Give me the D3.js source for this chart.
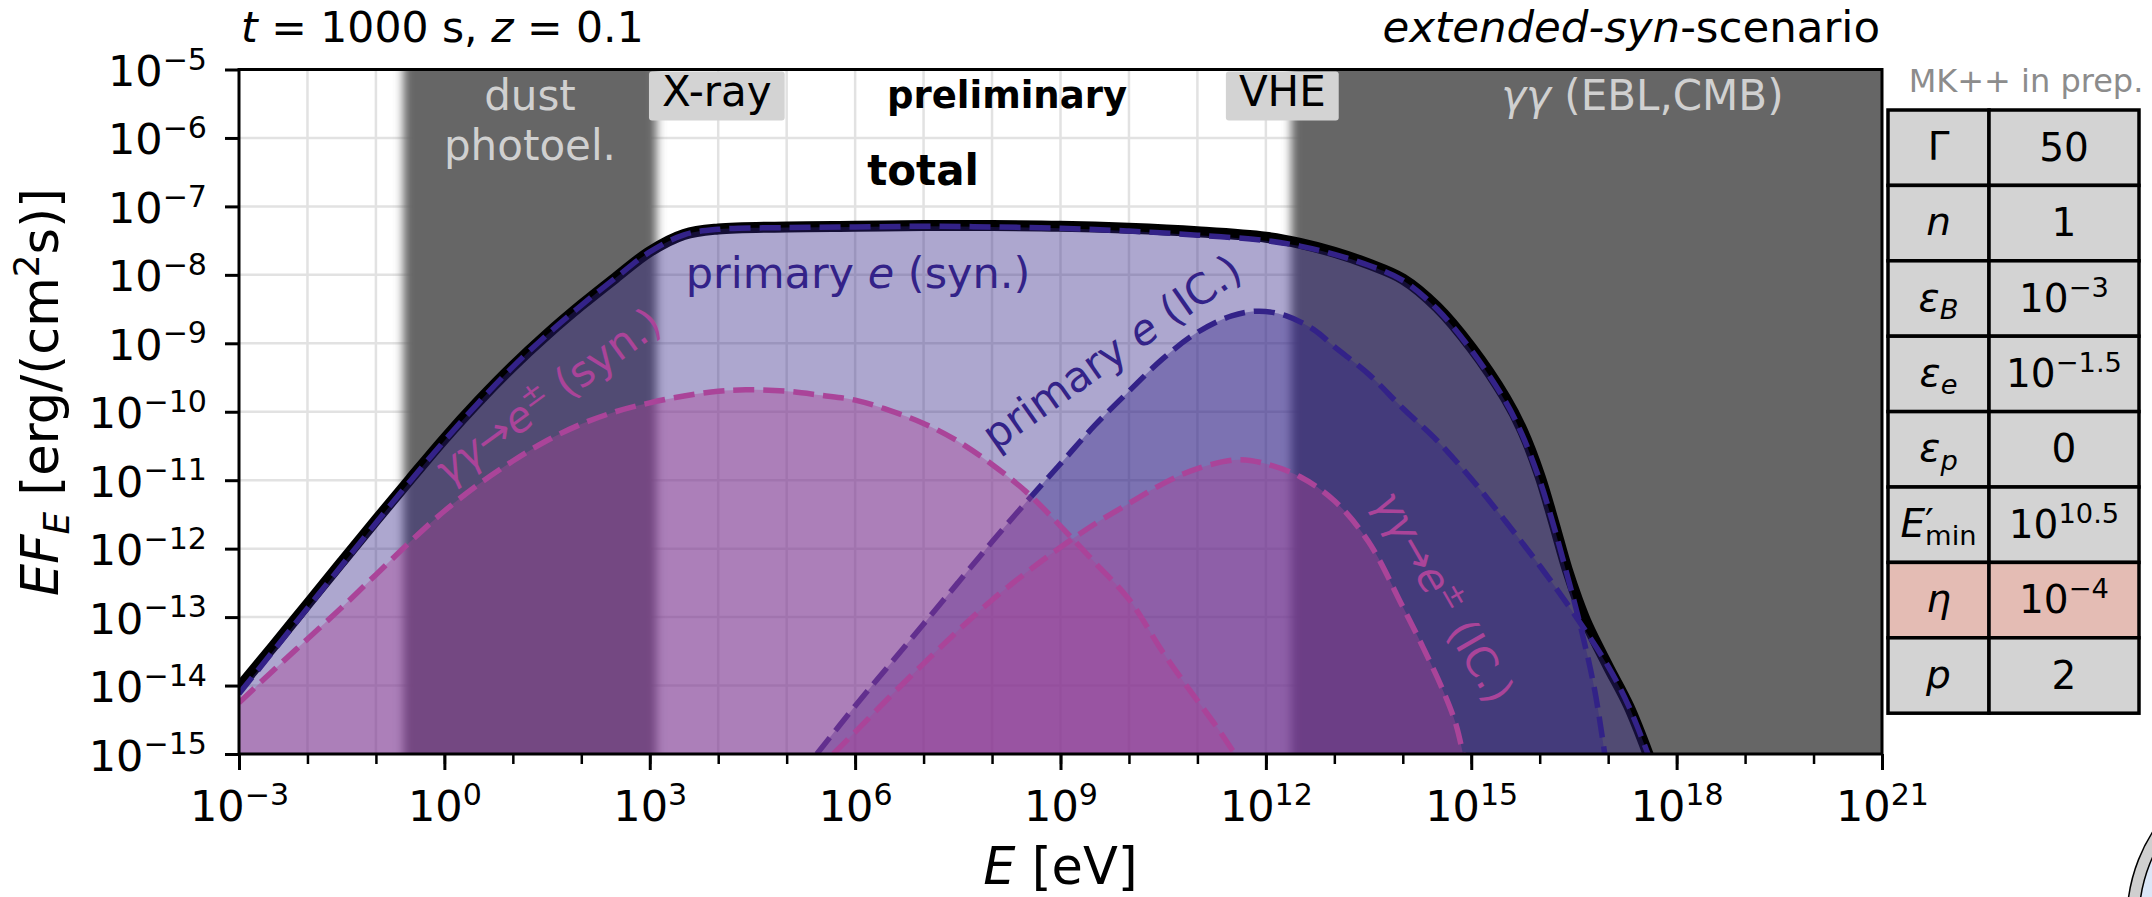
<!DOCTYPE html>
<html>
<head>
<meta charset="utf-8">
<title>Spectral energy distribution, extended-syn scenario</title>
<script src="https://cdn.jsdelivr.net/npm/d3@7/dist/d3.min.js"></script>
<style>
  html, body { margin: 0; padding: 0; background: #fff; }
  svg { display: block; }
  text { font-family: "DejaVu Sans", "Liberation Sans", sans-serif; }
</style>
</head>
<body>
<svg id="chart" width="2152" height="897"></svg>
<script>
// ---------------------------------------------------------------------------
// Spectral components: log10(E / eV) and log10(E F_E / erg cm^-2 s^-1)
// ---------------------------------------------------------------------------
const totalLogE = [-3, -2.5, -2, -1.5, -1, -0.5, 0, 0.5, 1, 1.5, 2, 2.5, 3, 3.5, 4, 5, 6, 7, 8, 9, 10, 11, 12, 12.5, 13, 13.5, 14, 14.5, 15, 15.5, 15.75, 16, 16.2, 16.4, 16.55, 16.7, 17, 17.3, 17.6];
const totalLogF = [-14.03, -13.425, -12.81, -12.195, -11.585, -10.985, -10.395, -9.845, -9.335, -8.87, -8.442, -8.043, -7.66, -7.41, -7.33, -7.3, -7.29, -7.28, -7.28, -7.29, -7.32, -7.37, -7.45, -7.54, -7.67, -7.84, -8.06, -8.47, -9.06, -9.8, -10.28, -10.93, -11.6, -12.3, -12.74, -13.12, -13.72, -14.3, -15.05];

const synLogE = [-3, -2.5, -2, -1.5, -1, -0.5, 0, 0.5, 1, 1.5, 2, 2.5, 3, 3.5, 4, 5, 6, 7, 8, 9, 10, 11, 12, 12.5, 13, 13.5, 14, 14.5, 15, 15.5, 15.75, 16, 16.2, 16.4, 16.6, 16.8, 16.95];
const synLogF = [-14.12, -13.495, -12.87, -12.245, -11.625, -11.015, -10.425, -9.865, -9.345, -8.875, -8.445, -8.045, -7.665, -7.415, -7.335, -7.31, -7.3, -7.29, -7.3, -7.32, -7.36, -7.42, -7.5, -7.58, -7.7, -7.86, -8.08, -8.5, -9.1, -9.85, -10.35, -11.0, -11.65, -12.38, -13.15, -14.05, -15.0];

const icLogE = [5.44, 6, 6.5, 7, 7.5, 8, 8.5, 9, 9.5, 10, 10.5, 11, 11.5, 11.9, 12.3, 12.7, 13, 13.5, 14, 14.5, 15, 15.5, 16, 16.5, 17, 17.3, 17.6];
const icLogF = [-15.0, -14.3, -13.7, -13.1, -12.5, -11.9, -11.32, -10.76, -10.2, -9.7, -9.22, -8.84, -8.6, -8.53, -8.6, -8.8, -9.05, -9.45, -9.95, -10.42, -10.98, -11.6, -12.25, -12.95, -13.72, -14.3, -15.05];

const pairSynLogE = [-3, -2.5, -2, -1.5, -1, -0.5, 0, 0.5, 1, 1.5, 2, 2.5, 3, 3.5, 4, 4.4, 5, 5.5, 6, 6.5, 7, 7.5, 8, 8.5, 9, 9.5, 10, 10.5, 11, 11.3, 11.6];
const pairSynLogF = [-14.25, -13.78, -13.32, -12.86, -12.38, -11.9, -11.45, -11.06, -10.72, -10.42, -10.18, -10.0, -9.87, -9.77, -9.7, -9.68, -9.7, -9.76, -9.83, -9.98, -10.17, -10.43, -10.77, -11.17, -11.67, -12.2, -12.74, -13.52, -14.22, -14.63, -15.08];

const pairIcLogE = [5.68, 6, 6.5, 7, 7.5, 8, 8.5, 9, 9.5, 10, 10.5, 11, 11.6, 12, 12.5, 13, 13.5, 14, 14.3, 14.6, 14.78, 14.9];
const pairIcLogF = [-15.0, -14.68, -14.17, -13.68, -13.2, -12.75, -12.35, -11.98, -11.64, -11.34, -11.05, -10.83, -10.7, -10.76, -10.95, -11.3, -11.9, -12.85, -13.45, -14.1, -14.58, -15.1];

// Axis ticks (decade exponents)
const xLabelExp = [-3, 0, 3, 6, 9, 12, 15, 18, 21];
const xDecadeExp = d3.range(-3, 22);
const yLabelExp = d3.range(-15, -4);

// Shaded absorption bands (decade exponents of E)
const dustBandExp = [-0.6, 3.1];
const ggBandExp = [12.37, 21];

// Instrument windows (centre exponent of E)
const instrumentNames = ['X-ray', 'VHE'];
const instrumentCentreExp = [3.98, 12.24];

// Parameter table
const paramNames = ['Γ', '*n*', '*ε*_{*B*}', '*ε*_{*e*}', '*ε*_{*p*}', '*E*′_{min}', '*η*', '*p*'];
const paramValues = ['50', '1', '10^{−3}', '10^{−1.5}', '0', '10^{10.5}', '10^{−4}', '2'];
const paramHighlight = [false, false, false, false, false, false, true, false];

// ---------------------------------------------------------------------------
const svg = d3.select('#chart');
const P = { x0: 239, x1: 1882, y0: 69.5, y1: 754 };
const pow = e => Math.pow(10, e);
const x = d3.scaleLog().domain([1e-3, 1e21]).range([P.x0, P.x1]);
const y = d3.scaleLog().domain([1e-15, 1e-5]).range([P.y1, P.y0]);

const INDIGO = '#332288';
const PURPLE = '#AA4499';

// rich text: ^{..} superscript, _{..} subscript, *..* italic
function parseRich(str) {
  const parts = [];
  const re = /([\^_])\{([^}]*)\}|([^\^_]+)/g;
  let m;
  while ((m = re.exec(str))) {
    const mode = m[1] === '^' ? 'sup' : m[1] === '_' ? 'sub' : 'base';
    const body = m[1] ? m[2] : m[3];
    body.split(/(\*[^*]+\*|′)/).filter(Boolean).forEach(seg => {
      const it = seg.startsWith('*') && seg.endsWith('*') && seg.length > 1;
      parts.push({ t: it ? seg.slice(1, -1) : seg, it, mode });
    });
  }
  return parts;
}
function renderRich(text, str, size, supRaise = 0.38) {
  let cur = 0, prev = null;
  parseRich(str).forEach(p => {
    const off = p.mode === 'sup' ? -supRaise * size : p.mode === 'sub' ? 0.22 * size : 0;
    const ts = text.append('tspan').text(p.t);
    if (off - cur !== 0) ts.attr('dy', off - cur);
    if (p.mode !== 'base') ts.attr('font-size', 0.7 * size);
    if (p.it) ts.attr('font-style', 'italic');
    // stack a subscript under a preceding superscript / prime
    if (p.mode === 'sub' && prev && (prev.mode === 'sup' || prev.t === '′')) {
      ts.attr('dx', -prev.node.getComputedTextLength());
    }
    cur = off; prev = { mode: p.mode, t: p.t, node: ts.node() };
  });
  return text;
}
function label(parent, str, px, py, size, opts = {}) {
  const t = parent.append('text')
    .attr('x', px).attr('y', py)
    .attr('font-size', size)
    .attr('text-anchor', opts.anchor || 'middle')
    .attr('fill', opts.fill || '#000');
  if (opts.weight) t.attr('font-weight', opts.weight);
  if (opts.rotate) t.attr('transform', `rotate(${opts.rotate},${px},${py})`);
  return renderRich(t, str, size, opts.supRaise);
}

// ---------------------------------------------------------------------------
const defs = svg.append('defs');
defs.append('clipPath').attr('id', 'plotClip')
  .append('rect').attr('x', P.x0).attr('y', P.y0).attr('width', P.x1 - P.x0).attr('height', P.y1 - P.y0);
defs.append('filter').attr('id', 'soft').attr('x', '-20%').attr('y', '-5%').attr('width', '140%').attr('height', '110%')
  .append('feGaussianBlur').attr('stdDeviation', 5);

svg.append('rect').attr('width', 2152).attr('height', 897).attr('fill', '#fff');

// grid
const grid = svg.append('g').attr('stroke', '#e2e2e2').attr('stroke-width', 2.5);
grid.selectAll('line.gx').data(xDecadeExp.slice(1, -1)).join('line')
  .attr('x1', d => x(pow(d))).attr('x2', d => x(pow(d))).attr('y1', P.y0).attr('y2', P.y1);
grid.selectAll('line.gy').data(yLabelExp.slice(1, -1)).join('line')
  .attr('y1', d => y(pow(d))).attr('y2', d => y(pow(d))).attr('x1', P.x0).attr('x2', P.x1);

// absorption bands (soft edges); a band reaching the axis edge is extended past it
const plotArea = svg.append('g').attr('clip-path', 'url(#plotClip)');
[dustBandExp, ggBandExp].forEach(b => {
  const xa = x(pow(b[0]));
  const xbRaw = x(pow(b[1]));
  const xb = xbRaw >= P.x1 - 0.5 ? P.x1 + 30 : xbRaw;
  plotArea.append('rect').attr('x', xa).attr('width', xb - xa)
    .attr('y', P.y0 - 30).attr('height', P.y1 - P.y0 + 60)
    .attr('fill', '#666').attr('filter', 'url(#soft)');
});

// curves
const toPts = (es, fs) => es.map((e, i) => [pow(e), pow(fs[i])]);
const line = d3.line().x(d => x(d[0])).y(d => y(d[1])).curve(d3.curveCatmullRom.alpha(0.5));
const area = d3.area().x(d => x(d[0])).y0(P.y1 + 40).y1(d => y(d[1])).curve(d3.curveCatmullRom.alpha(0.5));

plotArea.append('path').attr('d', line(toPts(totalLogE, totalLogF)))
  .attr('fill', 'none').attr('stroke', '#000').attr('stroke-width', 11);

const components = [
  { e: synLogE, f: synLogF, c: INDIGO },
  { e: icLogE, f: icLogF, c: INDIGO },
  { e: pairSynLogE, f: pairSynLogF, c: PURPLE },
  { e: pairIcLogE, f: pairIcLogF, c: PURPLE }
];
components.forEach(s => {
  const pts = toPts(s.e, s.f);
  plotArea.append('path').attr('d', area(pts)).attr('fill', s.c).attr('fill-opacity', 0.4);
  plotArea.append('path').attr('d', line(pts)).attr('fill', 'none')
    .attr('stroke', s.c).attr('stroke-width', 5.5).attr('stroke-dasharray', '21,9');
});

// band annotations
const ann = svg.append('g');
const dustC = x(pow((dustBandExp[0] + dustBandExp[1]) / 2));
label(ann, 'dust', dustC, 110, 42, { fill: '#d0d0d0' });
label(ann, 'photoel.', dustC, 160, 42, { fill: '#d0d0d0' });
label(ann, '*γγ* (EBL,CMB)', x(pow(17.5)), 110, 42, { fill: '#d0d0d0' });

instrumentNames.forEach((n, i) => {
  const cx = x(pow(instrumentCentreExp[i]));
  const t = label(ann, n, cx, 106, 42);
  const w = t.node().getComputedTextLength();
  ann.insert('rect', () => t.node())
    .attr('x', cx - w / 2 - 13).attr('width', w + 26)
    .attr('y', P.y0 + 2).attr('height', 49).attr('rx', 3)
    .attr('fill', '#d3d3d3');
});

label(ann, 'preliminary', 1007, 108, 37, { weight: 'bold' });
label(ann, 'total', 923, 185, 42, { weight: 'bold' });

label(ann, 'primary *e* (syn.)', 858, 288, 43, { fill: INDIGO });
label(ann, 'primary *e* (IC.)', 1120, 364, 42, { fill: INDIGO, rotate: -35 });
label(ann, '*γγ*→*e*^{±} (syn.)', 556, 408, 42, { fill: PURPLE, rotate: -36 });
label(ann, '*γγ*→*e*^{±} (IC.)', 1431, 604, 42, { fill: PURPLE, rotate: 60 });

// spines
svg.append('rect').attr('x', P.x0).attr('y', P.y0).attr('width', P.x1 - P.x0).attr('height', P.y1 - P.y0)
  .attr('fill', 'none').attr('stroke', '#000').attr('stroke-width', 3);

// axes
const TICK_FS = 43;
const fmtExp = e => (e < 0 ? '−' + Math.abs(e) : String(e));
const gxMinor = svg.append('g').attr('transform', `translate(0,${P.y1})`)
  .call(d3.axisBottom(x).tickValues(xDecadeExp.map(pow)).tickSize(10).tickFormat(() => ''));
gxMinor.select('.domain').remove();
gxMinor.selectAll('.tick line').attr('stroke-width', 2.5);
gxMinor.selectAll('.tick text').remove();

const gx = svg.append('g').attr('transform', `translate(0,${P.y1})`)
  .call(d3.axisBottom(x).tickValues(xLabelExp.map(pow)).tickSize(16).tickFormat(() => ''));
gx.select('.domain').remove();
gx.attr('font-family', null).attr('font-size', null);
gx.selectAll('.tick line').attr('stroke-width', 3);
gx.selectAll('.tick text').each(function (d) {
  const t = d3.select(this).attr('y', 67).attr('dy', null).attr('font-size', TICK_FS).attr('fill', '#000');
  renderRich(t, `10^{${fmtExp(Math.round(Math.log10(d)))}}`, TICK_FS);
});

const gy = svg.append('g').attr('transform', `translate(${P.x0},0)`)
  .call(d3.axisLeft(y).tickValues(yLabelExp.map(pow)).tickSize(14).tickFormat(() => ''));
gy.select('.domain').remove();
gy.attr('font-family', null).attr('font-size', null);
gy.selectAll('.tick line').attr('stroke-width', 3);
gy.selectAll('.tick text').each(function (d) {
  const t = d3.select(this).attr('x', -32).attr('y', 16).attr('dy', null).attr('font-size', TICK_FS).attr('fill', '#000');
  renderRich(t, `10^{${fmtExp(Math.round(Math.log10(d)))}}`, TICK_FS);
});

// axis titles
label(svg, '*E* [eV]', (P.x0 + P.x1) / 2, 884, 51);
label(svg, '*EF*_{*E*} [erg/(cm^{2}s)]', 58, 392, 51, { rotate: -90 });

// headers
label(svg, '*t* = 1000 s, *z* = 0.1', 241, 42, 42.5, { anchor: 'start' });
label(svg, '*extended-syn*-scenario', 1880, 42, 43.5, { anchor: 'end' });
label(svg, 'MK++ in prep.', 2026, 92, 32, { fill: '#8c8c8c' });

// parameter table
const T = { x0: 1888, xm: 1989, x1: 2139, y0: 110, rowH: 75.4 };
const tbl = svg.append('g');
paramNames.forEach((n, i) => {
  const ry = T.y0 + i * T.rowH;
  const fill = paramHighlight[i] ? '#e4bcb4' : '#d3d3d3';
  tbl.append('rect').attr('x', T.x0).attr('y', ry).attr('width', T.xm - T.x0).attr('height', T.rowH)
    .attr('fill', fill).attr('stroke', '#000').attr('stroke-width', 3.5);
  tbl.append('rect').attr('x', T.xm).attr('y', ry).attr('width', T.x1 - T.xm).attr('height', T.rowH)
    .attr('fill', fill).attr('stroke', '#000').attr('stroke-width', 3.5);
  label(tbl, n, (T.x0 + T.xm) / 2, ry + T.rowH / 2 + 12, 39);
  label(tbl, paramValues[i], (T.xm + T.x1) / 2, ry + T.rowH / 2 + 13, 39);
});

// corner emblem (partially visible)
svg.append('circle').attr('cx', 2291).attr('cy', 920).attr('r', 164)
  .attr('fill', '#cfcfcf').attr('stroke', '#000').attr('stroke-width', 1.5);
svg.append('circle').attr('cx', 2291).attr('cy', 920).attr('r', 152)
  .attr('fill', '#dbe7f8').attr('stroke', '#000').attr('stroke-width', 1.5);
</script>
</body>
</html>
